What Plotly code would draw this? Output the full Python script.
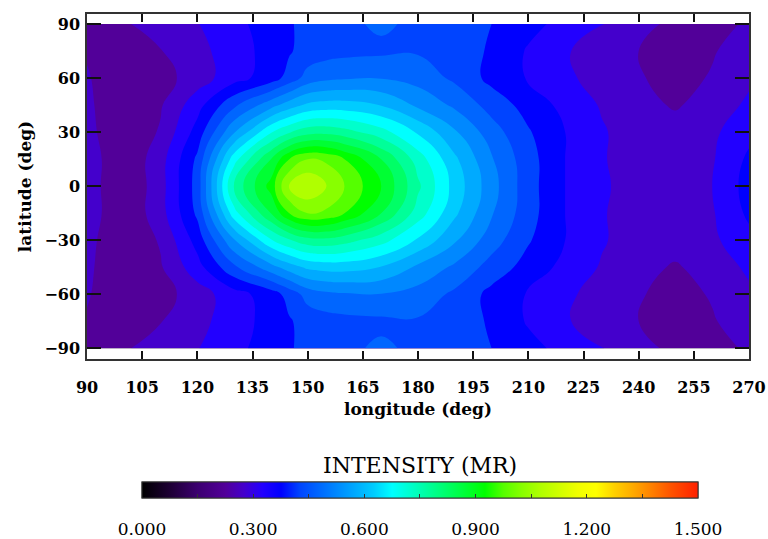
import plotly.graph_objects as go

# ---------------- data ----------------
lon = [90, 100, 110, 120, 130, 140, 145, 150, 155, 160, 170, 180, 190, 200, 210, 220, 230, 240, 250, 260, 270]
lat = [-90, -75, -60, -45, -30, -15, 0, 15, 30, 45, 60, 75, 90]

# intensity (MR) rows, one per latitude, columns follow lon
lat_p90 = [0.21, 0.245, 0.27, 0.298, 0.335, 0.375, 0.395, 0.415, 0.43, 0.44, 0.458, 0.44, 0.42, 0.40, 0.365, 0.335, 0.302, 0.27, 0.235, 0.225, 0.26]
lat_p75 = [0.245, 0.22, 0.248, 0.285, 0.325, 0.37, 0.395, 0.42, 0.43, 0.435, 0.44, 0.445, 0.44, 0.39, 0.345, 0.305, 0.275, 0.25, 0.22, 0.245, 0.28]
lat_p60 = [0.255, 0.21, 0.23, 0.275, 0.33, 0.375, 0.42, 0.47, 0.488, 0.495, 0.498, 0.48, 0.44, 0.385, 0.345, 0.31, 0.28, 0.255, 0.23, 0.255, 0.29]
lat_p45 = [0.26, 0.21, 0.245, 0.33, 0.44, 0.53, 0.575, 0.61, 0.62, 0.62, 0.598, 0.54, 0.49, 0.43, 0.38, 0.335, 0.295, 0.265, 0.245, 0.27, 0.31]
lat_p30 = [0.265, 0.21, 0.255, 0.37, 0.545, 0.695, 0.745, 0.78, 0.785, 0.77, 0.72, 0.643, 0.557, 0.473, 0.405, 0.35, 0.305, 0.275, 0.27, 0.29, 0.335]
lat_p15 = [0.28, 0.205, 0.28, 0.41, 0.68, 0.85, 0.95, 1.0, 0.99, 0.95, 0.85, 0.727, 0.61, 0.505, 0.42, 0.35, 0.305, 0.27, 0.265, 0.295, 0.36]
lat_00 = [0.28, 0.20, 0.28, 0.42, 0.76, 0.92, 1.06, 1.099, 1.055, 1.0, 0.90, 0.76, 0.63, 0.52, 0.42, 0.35, 0.31, 0.27, 0.265, 0.30, 0.37]
lat_m15 = [0.28, 0.205, 0.28, 0.41, 0.68, 0.85, 0.95, 1.0, 0.99, 0.95, 0.85, 0.727, 0.61, 0.505, 0.42, 0.35, 0.305, 0.27, 0.265, 0.295, 0.36]
lat_m30 = [0.265, 0.21, 0.255, 0.37, 0.545, 0.695, 0.745, 0.78, 0.785, 0.77, 0.72, 0.643, 0.557, 0.473, 0.405, 0.35, 0.305, 0.275, 0.27, 0.29, 0.335]
lat_m45 = [0.26, 0.21, 0.245, 0.33, 0.44, 0.53, 0.575, 0.61, 0.62, 0.62, 0.598, 0.54, 0.49, 0.43, 0.38, 0.335, 0.295, 0.265, 0.245, 0.27, 0.31]
lat_m60 = [0.255, 0.21, 0.23, 0.275, 0.33, 0.375, 0.42, 0.47, 0.488, 0.495, 0.498, 0.48, 0.44, 0.385, 0.345, 0.31, 0.28, 0.255, 0.23, 0.255, 0.29]
lat_m75 = [0.245, 0.22, 0.248, 0.285, 0.325, 0.37, 0.395, 0.42, 0.43, 0.435, 0.44, 0.445, 0.44, 0.39, 0.345, 0.305, 0.275, 0.25, 0.22, 0.245, 0.28]
lat_m90 = [0.21, 0.245, 0.27, 0.298, 0.335, 0.375, 0.395, 0.415, 0.43, 0.44, 0.458, 0.44, 0.42, 0.40, 0.365, 0.335, 0.302, 0.27, 0.235, 0.225, 0.26]

intensity = [lat_m90, lat_m75, lat_m60, lat_m45, lat_m30, lat_m15, lat_00,
             lat_p15, lat_p30, lat_p45, lat_p60, lat_p75, lat_p90]

x_ticks = [90, 105, 120, 135, 150, 165, 180, 195, 210, 225, 240, 255, 270]
y_ticks = [-90, -60, -30, 0, 30, 60, 90]
cbar_vals = [0.0, 0.3, 0.6, 0.9, 1.2, 1.5]
cbar_labels = ["0.000", "0.300", "0.600", "0.900", "1.200", "1.500"]
cbar_minor = [0.0, 0.15, 0.3, 0.45, 0.6, 0.75, 0.9, 1.05, 1.2, 1.35, 1.5]

# ---------------- styling ----------------
ZMAX = 1.5
cmap_pts = [
    (0.000, "#000000"), (0.075, "#1e0034"), (0.150, "#3c0070"), (0.225, "#520099"),
    (0.275, "#4400cc"), (0.325, "#2200ff"), (0.375, "#0000ff"), (0.425, "#0044ff"),
    (0.475, "#0066ff"), (0.525, "#0088ff"), (0.575, "#00aaff"), (0.625, "#00ccff"),
    (0.675, "#00ffff"), (0.725, "#00ffcc"), (0.775, "#00ff99"), (0.825, "#00ff66"),
    (0.875, "#00ff33"), (0.925, "#00ff00"), (0.975, "#55ff00"), (1.025, "#88ff00"),
    (1.075, "#b0ff00"), (1.125, "#d0ff00"), (1.175, "#f0ff00"), (1.225, "#ffff00"),
    (1.275, "#ffd000"), (1.325, "#ffaa00"), (1.375, "#ff8000"), (1.425, "#ff5500"),
    (1.500, "#ff2000"),
]
cscale = [[v / ZMAX, c] for v, c in cmap_pts]

SERIF = "DejaVu Serif"

fig = go.Figure()
fig.add_trace(go.Contour(
    x=lon, y=lat, z=intensity, zmin=0, zmax=ZMAX,
    colorscale=cscale, showscale=False,
    contours=dict(start=0, end=ZMAX, size=0.05, coloring="fill", showlines=False),
    line=dict(width=0, smoothing=1.3), hoverinfo="skip",
))

cb_common = dict(orientation="h", x=0.503, xanchor="center", y=-0.3565, yanchor="top",
                 lenmode="pixels", len=556, thicknessmode="pixels", thickness=16,
                 xpad=0, ypad=0, outlinewidth=1, outlinecolor="#333333")

fig.add_trace(go.Scatter(
    x=[180], y=[0], mode="markers", hoverinfo="skip", showlegend=False,
    marker=dict(size=1, opacity=0, color=[0.75], cmin=0, cmax=ZMAX, colorscale=cscale,
                showscale=True,
                colorbar=dict(**cb_common, tickmode="array", tickvals=cbar_vals, ticktext=cbar_labels,
                              ticks="outside", ticklen=17, tickcolor="rgba(0,0,0,0)",
                              tickfont=dict(family=SERIF, size=17, color="black"))),
))
fig.add_trace(go.Scatter(
    x=[180], y=[0], mode="markers", hoverinfo="skip", showlegend=False,
    marker=dict(size=1, opacity=0, color=[0.75], cmin=0, cmax=ZMAX, colorscale=cscale,
                showscale=True,
                colorbar=dict(**cb_common, tickmode="array", tickvals=cbar_minor,
                              ticks="inside", ticklen=4, tickwidth=1, tickcolor="#333333",
                              showticklabels=False)),
))

fig.add_annotation(text="INTENSITY (MR)", xref="paper", yref="paper", x=0.503, y=-0.31,
                   xanchor="center", yanchor="middle", showarrow=False,
                   font=dict(family=SERIF, size=22, color="black"))

axis_common = dict(showline=True, linecolor="#333333", linewidth=1.5, mirror="ticks",
                   ticks="inside", tickcolor="#111111", tickwidth=1.5,
                   showgrid=False, zeroline=False, automargin=False,
                   tickfont=dict(family=SERIF, size=16, color="black", weight="bold"))

fig.update_layout(
    width=768, height=539,
    margin=dict(l=87, r=19, t=14, b=180, autoexpand=False),
    paper_bgcolor="white", plot_bgcolor="white",
    showlegend=False,
    font=dict(family=SERIF, color="black"),
    xaxis=dict(**axis_common, range=[90, 270], tickmode="array", tickvals=x_ticks,
               ticklen=8, ticklabelstandoff=13,
               title=dict(text="longitude (deg)", standoff=7,
                          font=dict(family=SERIF, size=17, color="black", weight="bold"))),
    yaxis=dict(**axis_common, range=[-96, 95.6], tickmode="array", tickvals=y_ticks,
               ticklen=14, ticklabelstandoff=2,
               title=dict(text="latitude (deg)", standoff=8,
                          font=dict(family=SERIF, size=17, color="black", weight="bold"))),
)

fig.write_html("out.html", config={"displayModeBar": False},
               post_script="document.body.style.margin='0';")
